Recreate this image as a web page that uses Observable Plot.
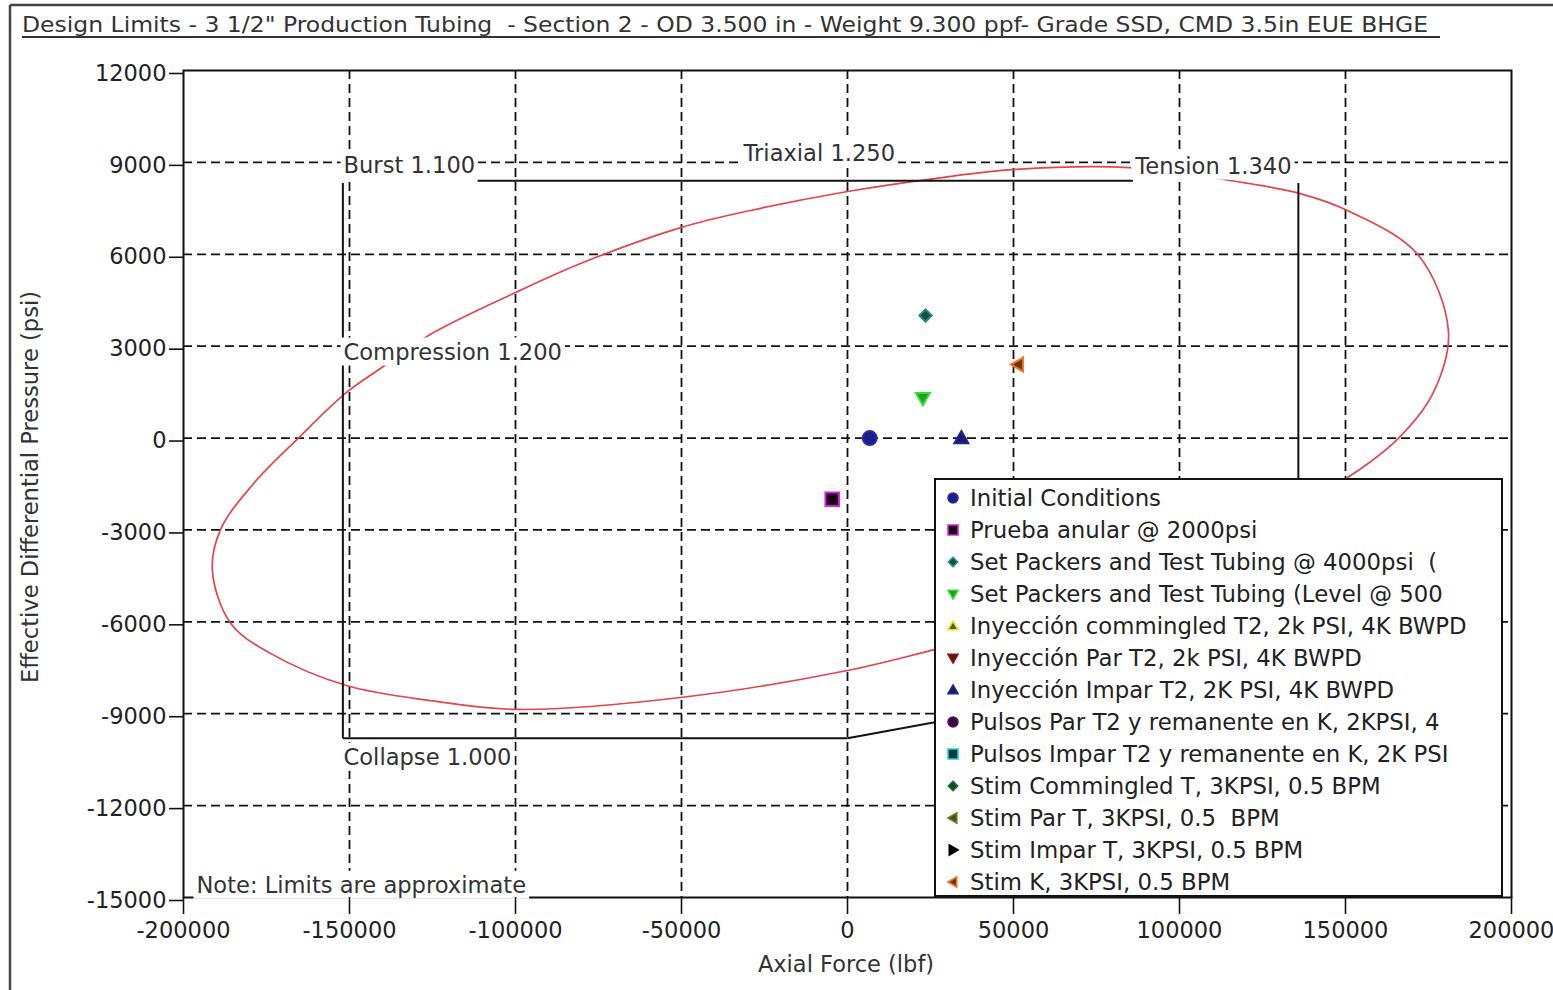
<!DOCTYPE html>
<html>
<head>
<meta charset="utf-8">
<script src="https://cdn.jsdelivr.net/npm/d3@7"></script>
<script src="https://cdn.jsdelivr.net/npm/@observablehq/plot@0.6"></script>
<style>
  html, body { margin: 0; padding: 0; background: #fff; }
  body { width: 1553px; height: 990px; overflow: hidden; position: relative; }
  #chart { position: absolute; left: 0; top: 0; }
</style>
</head>
<body>
<div id="chart"></div>
<script>
// ---------------- DATA ----------------
const titleText = 'Design Limits - 3 1/2" Production Tubing  - Section 2 - OD 3.500 in - Weight 9.300 ppf- Grade SSD, CMD 3.5in EUE BHGE';
const xTitle = "Axial Force (lbf)";
const yTitle = "Effective Differential Pressure (psi)";

const xTicks = [-200000, -150000, -100000, -50000, 0, 50000, 100000, 150000, 200000];
const yTicks = [-15000, -12000, -9000, -6000, -3000, 0, 3000, 6000, 9000, 12000];
const xGridValues = [-150000, -100000, -50000, 0, 50000, 100000, 150000];
const yGridValues = [-12000, -9000, -6000, -3000, 0, 3000, 6000, 9000];

// Load cases (legend order)
const seriesNames = [
  "Initial Conditions",
  "Prueba anular @ 2000psi",
  "Set Packers and Test Tubing @ 4000psi  (",
  "Set Packers and Test Tubing (Level @ 500",
  "Inyección commingled T2, 2k PSI, 4K BWPD",
  "Inyección Par T2, 2k PSI, 4K BWPD",
  "Inyección Impar T2, 2K PSI, 4K BWPD",
  "Pulsos Par T2 y remanente en K, 2KPSI, 4",
  "Pulsos Impar T2 y remanente en K, 2K PSI",
  "Stim Commingled T, 3KPSI, 0.5 BPM",
  "Stim Par T, 3KPSI, 0.5  BPM",
  "Stim Impar T, 3KPSI, 0.5 BPM",
  "Stim K, 3KPSI, 0.5 BPM"
];
const seriesSymbol = ["circle", "square", "diamond", "triDown", "triUp", "triDown", "triUp",
                      "circle", "square", "diamond", "triLeft", "triRight", "triLeft"];
const seriesFill   = ["#1c1c8e", "#160016", "#0f4d48", "#16a616", "#5a5a00", "#6a1010", "#1a1a72",
                      "#3a0a46", "#0a3a3a", "#0b4a1c", "#4a5212", "#050505", "#6e3410"];
const seriesStroke = ["#2a2aa6", "#e01ee0", "#2a8a80", "#3ad83a", "#e6e622", "#7c1c1c", "#24248e",
                      "#4c1a5a", "#24d2d2", "#1a6a2c", "#6c7c22", "#000000", "#f07a24"];
// Plotted points (null = not visible in the chart)
const pointForce    = [6700, -4600, 23500, 22700, null, null, 34300, null, null, null, null, null, 51300];
const pointPressure = [0, -2000, 4000, 1300, null, null, 0, null, null, null, null, null, 2400];

// Triaxial 1.250 envelope (in order around the curve)
const triaxialForce = [181000, 171700, 150600, 136100, 119300, 84900, 50300, 26800, 0, -29200, -50000,
  -80400, -100000, -126200, -140700, -150900, -165400, -179000, -188900, -191300, -185800, -173800,
  -150900, -125000, -99400, -50300, 0, 26500, 60000, 90000, 120000, 150600, 166000, 176500];
const triaxialPressure = [3500, 6000, 7430, 7990, 8340, 8830, 8770, 8480, 8050, 7430, 6880,
  5700, 4750, 3350, 2270, 1490, 0, -1500, -3000, -4320, -6050, -7030,
  -8080, -8580, -8860, -8470, -7590, -6900, -6000, -4700, -3100, -1290, 0, 1500];

// Design limit lines (Burst / Compression / Collapse / Tension)
const limitName = ["Burst", "Compression", "Collapse", "Collapse-Tension", "Tension"];
const limitX1 = [-111400, -152000, -152000, 0, 135800];
const limitY1 = [8400, 8330, -9800, -9800, 8330];
const limitX2 = [86000, -152000, 0, 135800, 135800];
const limitY2 = [8400, -9800, -9800, -7100, -7100];

// Annotations
const labelText = ["Burst 1.100", "Triaxial 1.250", "Tension 1.340", "Compression 1.200",
                   "Collapse 1.000", "Note: Limits are approximate"];
const labelForce = [-151800, -31300, 86700, -151800, -151800, -196100];
const labelPressure = [8900, 9290, 8870, 2800, -10430, -14610];

// ---------------- SYMBOLS ----------------
const SYM = {
  circle: {draw(c, s) { const r = Math.sqrt(s / Math.PI); c.moveTo(r, 0); c.arc(0, 0, r, 0, 2 * Math.PI); c.closePath(); }},
  square: {draw(c, s) { const r = Math.sqrt(s / Math.PI); c.moveTo(-r, -r); c.lineTo(r, -r); c.lineTo(r, r); c.lineTo(-r, r); c.closePath(); }},
  diamond: {draw(c, s) { const r = Math.sqrt(s / Math.PI); c.moveTo(0, -r); c.lineTo(r, 0); c.lineTo(0, r); c.lineTo(-r, 0); c.closePath(); }},
  triUp: {draw(c, s) { const r = Math.sqrt(s / Math.PI); c.moveTo(0, -r); c.lineTo(r, 0.75 * r); c.lineTo(-r, 0.75 * r); c.closePath(); }},
  triDown: {draw(c, s) { const r = Math.sqrt(s / Math.PI); c.moveTo(0, r); c.lineTo(r, -0.75 * r); c.lineTo(-r, -0.75 * r); c.closePath(); }},
  triLeft: {draw(c, s) { const r = Math.sqrt(s / Math.PI); c.moveTo(-r, 0); c.lineTo(0.75 * r, -r); c.lineTo(0.75 * r, r); c.closePath(); }},
  triRight: {draw(c, s) { const r = Math.sqrt(s / Math.PI); c.moveTo(r, 0); c.lineTo(-0.75 * r, -r); c.lineTo(-0.75 * r, r); c.closePath(); }}
};

// ---------------- TABLES ----------------
const envelope = triaxialForce.map((x, i) => ({x, y: triaxialPressure[i]}));
const limits = limitName.map((n, i) => ({n, x1: limitX1[i], y1: limitY1[i], x2: limitX2[i], y2: limitY2[i]}));
const labels = labelText.map((t, i) => ({t, x: labelForce[i], y: labelPressure[i]}));

const FONT = "'DejaVu Sans', Verdana, sans-serif";
const GRID = {stroke: "#111", strokeOpacity: 1, strokeWidth: 1.8, strokeDasharray: "9,5"};

const dotMarks = seriesNames.map((name, i) => {
  if (pointForce[i] == null || pointPressure[i] == null) return null;
  const sym = seriesSymbol[i];
  return Plot.dot([{x: pointForce[i], y: pointPressure[i], name}], {
    x: "x", y: "y", symbol: SYM[sym],
    r: sym === "diamond" ? 6.2 : sym === "square" ? 6.8 : 7,
    fill: seriesFill[i], stroke: seriesStroke[i], strokeWidth: 2
  });
}).filter(Boolean);

const plot = Plot.plot({
  width: 1553, height: 990,
  marginLeft: 183, marginRight: 42, marginTop: 70, marginBottom: 93,
  x: {domain: [-200000, 200000]},
  y: {domain: [-15000, 12000]},
  style: {fontFamily: FONT, fontSize: "22.5px", color: "#222", background: "#fff", overflow: "visible"},
  marks: [
    Plot.ruleX(xGridValues, GRID),
    Plot.ruleY(yGridValues, GRID),
    Plot.frame({stroke: "#111", strokeWidth: 2}),
    Plot.line(envelope, {x: "x", y: "y", curve: "catmull-rom-closed", stroke: "#e4444c", strokeWidth: 1.7}),
    Plot.link(limits, {x1: "x1", y1: "y1", x2: "x2", y2: "y2", stroke: "#111", strokeWidth: 2}),
    Plot.text(labels, {x: "x", y: "y", text: "t", textAnchor: "start", fontSize: 22.6, fill: "#333"}),
    ...dotMarks,
    Plot.axisX({ticks: xTicks, tickSize: 17, tickPadding: 8, tickFormat: d => String(d), label: null, stroke: "#111", strokeWidth: 1.6}),
    Plot.axisY({ticks: yTicks, tickSize: 14, tickPadding: 3, tickFormat: d => String(d), label: null, dy: 3, stroke: "#111", strokeWidth: 1.6})
  ]
});
document.getElementById("chart").appendChild(plot);

const svg = d3.select(plot);

// white boxes behind annotation labels (they hide grid/lines beneath, like the original)
svg.selectAll('g[aria-label="text"] text').each(function() {
  const b = this.getBBox();
  const node = this;
  d3.select(this.parentNode).insert("rect", () => node)
    .attr("x", b.x - 3).attr("y", b.y - 1)
    .attr("width", b.width + 6).attr("height", b.height + 2)
    .attr("fill", "#fff")
    .attr("transform", this.getAttribute("transform"));
});

// outer border
svg.append("line").attr("x1", 10).attr("y1", 5).attr("x2", 1553).attr("y2", 5).attr("stroke", "#444").attr("stroke-width", 2.5);
svg.append("line").attr("x1", 10).attr("y1", 5).attr("x2", 10).attr("y2", 990).attr("stroke", "#444").attr("stroke-width", 2.5);

// title
svg.append("text")
  .attr("x", 22).attr("y", 31.7)
  .attr("text-anchor", "start")
  .attr("font-family", FONT).attr("font-size", 21)
  .attr("fill", "#333")
  .attr("textLength", 1406).attr("lengthAdjust", "spacingAndGlyphs")
  .style("white-space", "pre")
  .text(titleText);
svg.append("line").attr("x1", 22).attr("x2", 1440).attr("y1", 37).attr("y2", 37).attr("stroke", "#333").attr("stroke-width", 2);

// axis titles
svg.append("text").attr("x", 846).attr("y", 972).attr("text-anchor", "middle")
  .attr("font-family", FONT).attr("font-size", 22.5).attr("fill", "#333").text(xTitle);
svg.append("text").attr("transform", "translate(38,487) rotate(-90)").attr("text-anchor", "middle")
  .attr("font-family", FONT).attr("font-size", 22.6).attr("fill", "#333").text(yTitle);

// legend
const lg = svg.append("g").attr("text-anchor", "start");
lg.append("rect").attr("x", 935).attr("y", 479).attr("width", 567).attr("height", 417)
  .attr("fill", "#fff").attr("stroke", "#111").attr("stroke-width", 2);
seriesNames.forEach((name, i) => {
  const cy = 498 + i * 32.0;
  const p = d3.path();
  const r = seriesSymbol[i] === "diamond" ? 4.6 : 5;
  SYM[seriesSymbol[i]].draw(p, r * r * Math.PI);
  lg.append("path").attr("d", p.toString()).attr("transform", `translate(953,${cy})`)
    .attr("fill", seriesFill[i]).attr("stroke", seriesStroke[i]).attr("stroke-width", 1.6);
  lg.append("text").attr("x", 970).attr("y", cy + 8.3)
    .attr("text-anchor", "start")
    .attr("font-family", FONT).attr("font-size", 22.8).attr("fill", "#222")
    .style("white-space", "pre").text(name);
});
</script>
</body>
</html>
